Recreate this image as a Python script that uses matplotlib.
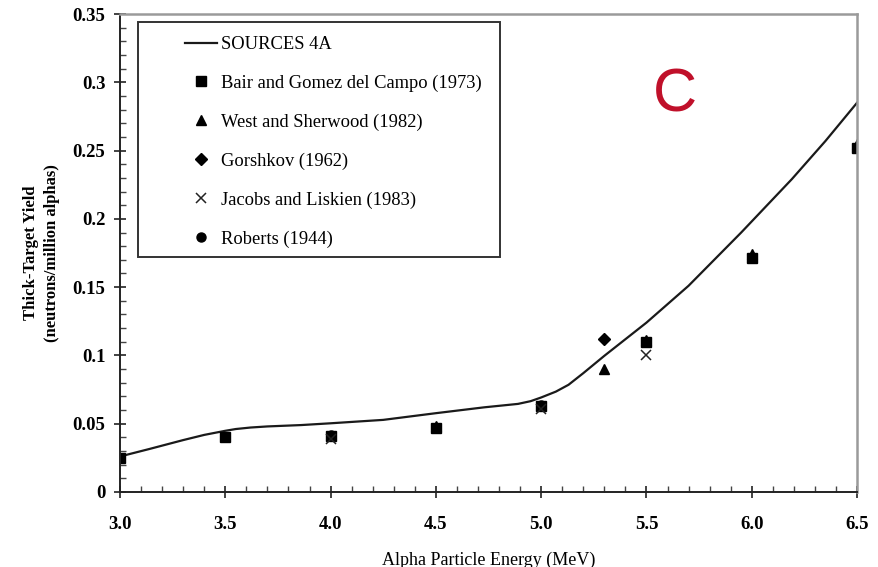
import matplotlib
matplotlib.use('Agg')
import matplotlib.pyplot as plt
from matplotlib.patches import Rectangle
from matplotlib.ticker import MultipleLocator, FixedFormatter, FixedLocator

# SOURCES 4A calculated thick-target yield
calc_energy = [3.0, 3.14, 3.3, 3.4, 3.5, 3.55, 3.62, 3.7, 3.86, 4.0, 4.25, 4.5,
               4.73, 4.89, 4.95, 5.0, 5.07, 5.13, 5.2, 5.3, 5.5, 5.7, 5.95, 6.19,
               6.35, 6.5]
calc_yield = [0.026, 0.0315, 0.038, 0.0418, 0.0448, 0.0461, 0.0472, 0.048, 0.049,
              0.0503, 0.0528, 0.0577, 0.062, 0.0645, 0.0665, 0.0692, 0.0735, 0.0785,
              0.087, 0.0997, 0.124, 0.151, 0.190, 0.229, 0.257, 0.285]

# measured values
bair_e = [3.0, 3.5, 4.0, 4.5, 5.0, 5.5, 6.0, 6.5]
bair_y = [0.025, 0.040, 0.041, 0.047, 0.063, 0.110, 0.171, 0.252]
west_e = [4.5, 5.3, 5.5, 6.0, 6.5]
west_y = [0.048, 0.090, 0.111, 0.174, 0.255]
gorshkov_e = [5.3]
gorshkov_y = [0.112]
jacobs_e = [4.0, 5.0, 5.5]
jacobs_y = [0.039, 0.061, 0.100]
roberts_e = [4.0, 5.0]
roberts_y = [0.042, 0.064]

xticks = [3.0, 3.5, 4.0, 4.5, 5.0, 5.5, 6.0, 6.5]
yticks = [0, 0.05, 0.1, 0.15, 0.2, 0.25, 0.3, 0.35]
ytick_labels = ['0', '0.05', '0.1', '0.15', '0.2', '0.25', '0.3', '0.35']

serif = ['Liberation Serif', 'DejaVu Serif']
plt.rcParams['font.family'] = serif

fig = plt.figure(figsize=(8.79, 5.67), dpi=100)
ax = fig.add_axes([0.1365, 0.1323, 0.8385, 0.843])

ax.plot(calc_energy, calc_yield, color='#1a1a1a', lw=1.6, label='SOURCES 4A')
ax.plot(bair_e, bair_y, 's', color='black', ms=7.5, label='Bair and Gomez del Campo (1973)')
ax.plot(west_e, west_y, '^', color='black', ms=7.5, label='West and Sherwood (1982)')
ax.plot(gorshkov_e, gorshkov_y, 'D', color='black', ms=6, label='Gorshkov (1962)')
ax.plot(jacobs_e, jacobs_y, 'x', color='#222222', ms=7, mew=1.1, label='Jacobs and Liskien (1983)')
ax.plot(roberts_e, roberts_y, 'o', color='black', ms=6.5, label='Roberts (1944)', zorder=1)

ax.set_xlim(3.0, 6.5)
ax.set_ylim(0, 0.35)
ax.xaxis.set_major_locator(FixedLocator(xticks))
ax.xaxis.set_minor_locator(MultipleLocator(0.1))
ax.yaxis.set_major_locator(FixedLocator(yticks))
ax.yaxis.set_major_formatter(FixedFormatter(ytick_labels))
ax.yaxis.set_minor_locator(MultipleLocator(0.01))
ax.set_xticklabels(['%.1f' % t for t in xticks])

ax.tick_params(which='major', direction='inout', length=9, width=1.2, labelsize=13.5, color='#222222')
ax.tick_params(which='minor', direction='in', length=4, width=1, color='#444444')
ax.tick_params(axis='x', which='major', pad=13)
ax.tick_params(axis='y', which='major', pad=6)
for lab in ax.get_xticklabels() + ax.get_yticklabels():
    lab.set_fontweight('bold')

for side in ['left', 'bottom']:
    ax.spines[side].set_color('#222222')
    ax.spines[side].set_linewidth(1.4)
for side in ['top', 'right']:
    ax.spines[side].set_color('#9a9a9a')
    ax.spines[side].set_linewidth(1.8)

ax.set_xlabel('Alpha Particle Energy (MeV)', fontsize=13, labelpad=13)
ax.set_ylabel('Thick-Target Yield\n(neutrons/million alphas)', fontsize=12,
              fontweight='bold', labelpad=9, linespacing=1.45)

# legend inside its own box
ax.add_patch(Rectangle((0.024, 0.492), 0.492, 0.491, transform=ax.transAxes,
                       fill=False, edgecolor='#333333', lw=1.4, zorder=3))
leg = ax.legend(loc='upper left', bbox_to_anchor=(0.088, 0.954), frameon=False,
                fontsize=13.3, labelspacing=1.17, handlelength=1.75, handletextpad=0.22,
                borderaxespad=0, borderpad=0)

fig.text(675 / 879, 1 - 96 / 567, 'C', color='#c0102a', fontsize=44,
         family='Liberation Sans', ha='center', va='center')

fig.savefig('out.png', dpi=100)
